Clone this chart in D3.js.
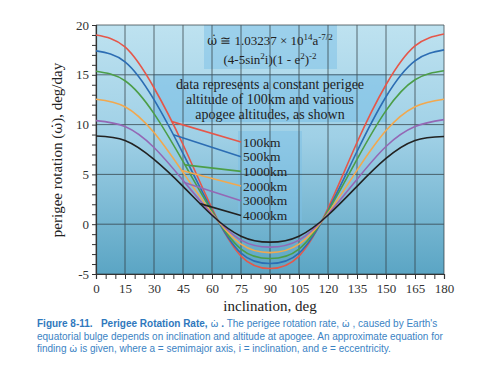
<!DOCTYPE html>
<html>
<head>
<meta charset="utf-8">
<script src="https://d3js.org/d3.v7.min.js"></script>
<style>
  body { margin: 0; background: #fff; }
  text { font-family: "Liberation Serif", "DejaVu Serif", serif; }
</style>
</head>
<body>
<script>
// inclination samples (deg)
var inclination = [0, 15, 30, 45, 60, 75, 90, 105, 120, 135, 150, 165, 180];

// perigee rotation (deg/day), one array per apogee altitude
var apo100  = [19.0, 17.8, 13.7, 8.0, 1.6, -3.2, -4.45, -3.2, 1.6, 8.2, 14.0, 17.9, 19.1];
var apo500  = [17.4, 16.3, 12.5, 7.1, 1.4, -2.9, -3.95, -2.9, 1.4, 7.3, 12.8, 16.4, 17.5];
var apo1000 = [15.35, 14.4, 11.1, 6.3, 1.3, -2.5, -3.45, -2.5, 1.3, 6.5, 11.4, 14.5, 15.4];
var apo2000 = [12.55, 11.8, 9.2, 5.2, 1.1, -2.0, -2.85, -2.0, 1.1, 5.4, 9.4, 11.8, 12.55];
var apo3000 = [10.4, 9.8, 7.7, 4.4, 1.0, -1.6, -2.3, -1.6, 1.0, 4.5, 7.8, 9.8, 10.5];
var apo4000 = [8.85, 8.4, 6.5, 3.8, 0.9, -1.2, -1.8, -1.2, 0.9, 3.8, 6.6, 8.4, 8.8];

var seriesNames  = ["100km", "500km", "1000km", "2000km", "3000km", "4000km"];
var seriesValues = [apo100, apo500, apo1000, apo2000, apo3000, apo4000];
var seriesColors = ["#e5574a", "#2c6db3", "#4c9e48", "#f2a84e", "#9468b5", "#222222"];
// inclination where each label's leader line leaves its curve
var leaderAt = [39.3, 40, 46, 44.3, 46, 53.8];

var xTicks = d3.range(0, 181, 15);
var yTicks = [-5, 0, 5, 10, 15, 20];

var W = 481, H = 367;
var OMEGA = "\u03C9\u0307";
var svg = d3.select("body").append("svg").attr("width", W).attr("height", H);

var x = d3.scaleLinear().domain([0, 180]).range([96, 444]);
var y = d3.scaleLinear().domain([-5, 20]).range([274, 25]);

// background gradient
var defs = svg.append("defs");
var grad = defs.append("linearGradient").attr("id", "bg").attr("x1", 0).attr("y1", 0).attr("x2", 0).attr("y2", 1);
grad.append("stop").attr("offset", "0%").attr("stop-color", "#bee2f0");
grad.append("stop").attr("offset", "45%").attr("stop-color", "#9fd0e6");
grad.append("stop").attr("offset", "100%").attr("stop-color", "#5ba5c4");

svg.append("rect")
  .attr("x", x(0)).attr("y", y(20))
  .attr("width", x(180) - x(0)).attr("height", y(-5) - y(20))
  .attr("fill", "url(#bg)");

// annotation boxes (sit under the grid)
svg.append("rect").attr("x", 204).attr("y", 25).attr("width", 133).attr("height", 44)
  .attr("fill", "#86c4e8").attr("opacity", 0.6);
svg.append("rect").attr("x", 153).attr("y", 74).attr("width", 234).attr("height", 48)
  .attr("fill", "#7cbfe6").attr("opacity", 0.6);
svg.append("rect").attr("x", 238).attr("y", 131).attr("width", 64).attr("height", 91)
  .attr("fill", "#7cbfe6").attr("opacity", 0.5);

// grid
var grid = svg.append("g").attr("stroke", "#2f3a40").attr("stroke-width", 0.9).attr("opacity", 0.8);
grid.selectAll(".gx").data(xTicks).enter().append("line")
  .attr("x1", function (d) { return x(d); }).attr("x2", function (d) { return x(d); })
  .attr("y1", y(20)).attr("y2", y(-5));
grid.selectAll(".gy").data(yTicks).enter().append("line")
  .attr("y1", function (d) { return y(d); }).attr("y2", function (d) { return y(d); })
  .attr("x1", x(0)).attr("x2", x(180));

// axes
var xAxis = d3.axisBottom(x).tickValues(d3.range(0, 181, 5)).tickSize(5)
  .tickFormat(function (d) { return d % 15 === 0 ? d : ""; });
var gx = svg.append("g").attr("transform", "translate(0," + y(-5) + ")").call(xAxis);
var yAxis = d3.axisLeft(y).tickValues(d3.range(-5, 21, 1)).tickSize(4)
  .tickFormat(function (d) { return d % 5 === 0 ? d : ""; });
var gy = svg.append("g").attr("transform", "translate(" + x(0) + ",0)").call(yAxis);
[gx, gy].forEach(function (g) {
  g.select(".domain").attr("stroke", "#333").attr("stroke-width", 1.2);
  g.selectAll(".tick line").attr("stroke", "#333");
  g.selectAll(".tick text").attr("fill", "#333").style("font-size", "13px")
    .style("font-family", "Liberation Serif, serif");
});
gx.selectAll(".tick text").attr("y", 9).attr("dy", "0.75em");
gy.selectAll(".tick text").attr("x", -7);

// curves
var line = d3.line()
  .x(function (d) { return x(d[0]); })
  .y(function (d) { return y(d[1]); })
  .curve(d3.curveNatural);

var paths = [];
seriesValues.forEach(function (vals, k) {
  var pts = inclination.map(function (inc, j) { return [inc, vals[j]]; });
  var p = svg.append("path").datum(pts)
    .attr("d", line).attr("fill", "none")
    .attr("stroke", seriesColors[k]).attr("stroke-width", 1.6);
  paths.push(p.node());
});

function pointAtX(node, px) {
  var lo = 0, hi = node.getTotalLength();
  for (var it = 0; it < 40; it++) {
    var mid = (lo + hi) / 2;
    if (node.getPointAtLength(mid).x < px) lo = mid; else hi = mid;
  }
  return node.getPointAtLength(lo);
}

// leader lines + labels
seriesNames.forEach(function (name, k) {
  var start = pointAtX(paths[k], x(leaderAt[k]));
  var ly = 142 + k * 14.7;
  svg.append("line")
    .attr("x1", start.x).attr("y1", start.y)
    .attr("x2", 241).attr("y2", ly)
    .attr("stroke", seriesColors[k]).attr("stroke-width", 1.6);
  svg.append("text").attr("x", 243).attr("y", ly + 4.5)
    .style("font-size", "13.5px").attr("fill", "#222").text(name);
});

// formula
var f1 = svg.append("text").attr("x", 270).attr("y", 45).attr("text-anchor", "middle")
  .style("font-size", "13px").attr("fill", "#222");
f1.append("tspan").style("font-family", "DejaVu Serif, serif").style("font-size", "12px").text(OMEGA);
f1.append("tspan").text(" \u2245 1.03237 \u00D7 10");
f1.append("tspan").attr("dy", -5).style("font-size", "9px").text("14");
f1.append("tspan").attr("dy", 5).text("a");
f1.append("tspan").attr("dy", -5).style("font-size", "9px").text("-7/2");

var f2 = svg.append("text").attr("x", 270).attr("y", 64).attr("text-anchor", "middle")
  .style("font-size", "13px").attr("fill", "#222");
f2.append("tspan").text("(4-5sin");
f2.append("tspan").attr("dy", -5).style("font-size", "9px").text("2");
f2.append("tspan").attr("dy", 5).text("i)(1 - e");
f2.append("tspan").attr("dy", -5).style("font-size", "9px").text("2");
f2.append("tspan").attr("dy", 5).text(")");
f2.append("tspan").attr("dy", -5).style("font-size", "9px").text("-2");

// note
var note = ["data represents a constant perigee", "altitude of 100km and various", "apogee altitudes, as shown"];
svg.selectAll(".note").data(note).enter().append("text")
  .attr("x", 270).attr("y", function (d, i) { return 89 + i * 15; })
  .attr("text-anchor", "middle").style("font-size", "14px").attr("fill", "#222")
  .text(function (d) { return d; });

// axis titles
svg.append("text").attr("x", 270).attr("y", 311).attr("text-anchor", "middle")
  .style("font-size", "15px").attr("fill", "#222").text("inclination, deg");
var yt = svg.append("text").attr("transform", "translate(62,150) rotate(-90)").attr("text-anchor", "middle")
  .style("font-size", "15px").attr("fill", "#222");
yt.append("tspan").text("perigee rotation (");
yt.append("tspan").style("font-family", "DejaVu Serif, serif").style("font-size", "13.5px").text(OMEGA);
yt.append("tspan").text("), deg/day");

// caption
var capFont = "Liberation Sans, Arial, sans-serif";
var cap = svg.append("g").style("font-size", "10px").attr("fill", "#3b83c4");
var c1 = cap.append("text").attr("x", 37).attr("y", 327).style("font-family", capFont);
c1.append("tspan").style("font-weight", "bold").attr("fill", "#2f78bd")
  .text("Figure 8-11.\u00A0\u00A0\u00A0Perigee Rotation Rate, ");
c1.append("tspan").style("font-family", "DejaVu Sans, sans-serif").style("font-size", "9.5px").text(OMEGA);
c1.append("tspan").style("font-weight", "bold").attr("fill", "#2f78bd").text(" .");
c1.append("tspan").text(" The perigee rotation rate, ");
c1.append("tspan").style("font-family", "DejaVu Sans, sans-serif").style("font-size", "9.5px").text(OMEGA);
c1.append("tspan").text(" , caused by Earth's");
cap.append("text").attr("x", 37).attr("y", 339.5).style("font-family", capFont)
  .text("equatorial bulge depends on inclination and altitude at apogee. An approximate equation for");
var c3 = cap.append("text").attr("x", 37).attr("y", 352).style("font-family", capFont);
c3.append("tspan").text("finding ");
c3.append("tspan").style("font-family", "DejaVu Sans, sans-serif").style("font-size", "9.5px").text(OMEGA);
c3.append("tspan").text("  is given, where a = semimajor axis, i = inclination, and e = eccentricity.");
</script>
</body>
</html>
